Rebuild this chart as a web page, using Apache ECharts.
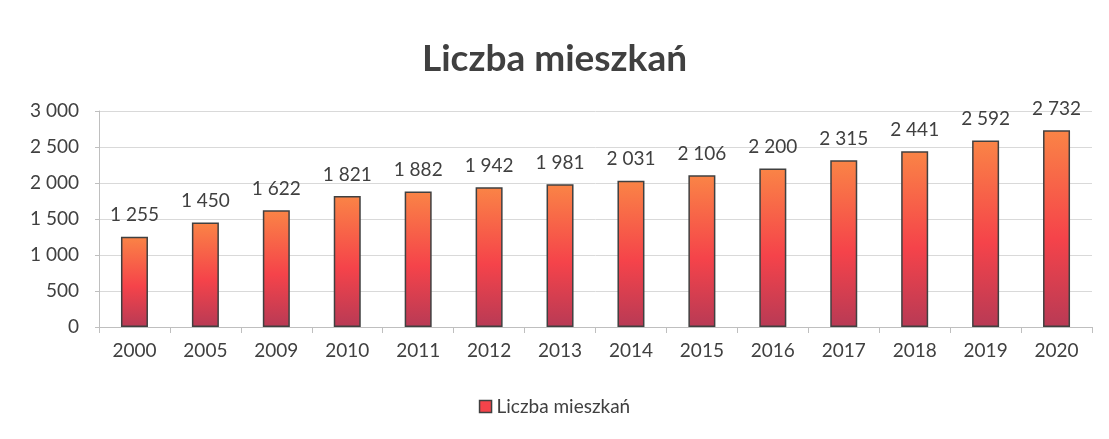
<!DOCTYPE html>
<html>
<head>
<meta charset="utf-8">
<script src="https://cdn.jsdelivr.net/npm/echarts@6/dist/echarts.min.js"></script>
<style>
  html, body { margin: 0; padding: 0; background: #fff; }
  #chart { width: 1109px; height: 439px; }
</style>
</head>
<body>
<div id="chart"></div>
<script>
var years = ['2000', '2005', '2009', '2010', '2011', '2012', '2013', '2014', '2015', '2016', '2017', '2018', '2019', '2020']
var flats = [1255, 1450, 1622, 1821, 1882, 1942, 1981, 2031, 2106, 2200, 2315, 2441, 2592, 2732]
var seriesName = 'Liczba mieszkań'

// 1 255 -> spacja jako separator tysięcy
function fmt(v) {
  return String(v).replace(/\B(?=(\d{3})+(?!\d))/g, ' ')
}

var chart = echarts.init(document.getElementById('chart'))
var barFill = new echarts.graphic.LinearGradient(0, 0, 0, 1, [
  { offset: 0, color: '#fa8446' },
  { offset: 0.55, color: '#f5434a' },
  { offset: 1, color: '#b83a55' }
])

chart.setOption({
  animation: false,
  title: {
    text: 'Liczba mieszkań',
    left: 'center',
    top: 36,
    textStyle: { fontFamily: 'Lato', fontSize: 37, fontWeight: 'bold', color: '#404040' }
  },
  legend: {
    bottom: 18,
    left: 'center',
    icon: 'rect',
    itemWidth: 12,
    itemHeight: 12,
    itemGap: 6,
    textStyle: { fontFamily: 'Lato', fontSize: 19, color: '#404040' },
    data: [{ name: seriesName, itemStyle: { color: '#f5434a', borderColor: '#404040', borderWidth: 1.5 } }]
  },
  grid: { left: 99, right: 17, top: 111, bottom: 112, containLabel: false },
  xAxis: {
    type: 'category',
    data: years,
    axisLine: { lineStyle: { color: '#bfbfbf' } },
    axisTick: { show: true, alignWithLabel: false, length: 6, lineStyle: { color: '#bfbfbf' } },
    axisLabel: { fontFamily: 'Lato', fontSize: 19, color: '#404040', margin: 14 }
  },
  yAxis: {
    type: 'value',
    min: 0,
    max: 3000,
    interval: 500,
    axisLine: { show: true, lineStyle: { color: '#bfbfbf' } },
    axisTick: { show: true, length: 4, lineStyle: { color: '#bfbfbf' } },
    splitLine: { lineStyle: { color: '#d9d9d9' } },
    axisLabel: { fontFamily: 'Lato', fontSize: 19, color: '#404040', margin: 20, formatter: fmt }
  },
  series: [{
    name: seriesName,
    type: 'bar',
    data: flats,
    barWidth: 27,
    itemStyle: { color: barFill, borderColor: '#404040', borderWidth: 1.5 },
    label: {
      show: true,
      position: 'top',
      distance: 12,
      fontFamily: 'Lato',
      fontSize: 19,
      color: '#404040',
      formatter: function (p) { return fmt(p.value) }
    }
  }]
})
</script>
</body>
</html>
